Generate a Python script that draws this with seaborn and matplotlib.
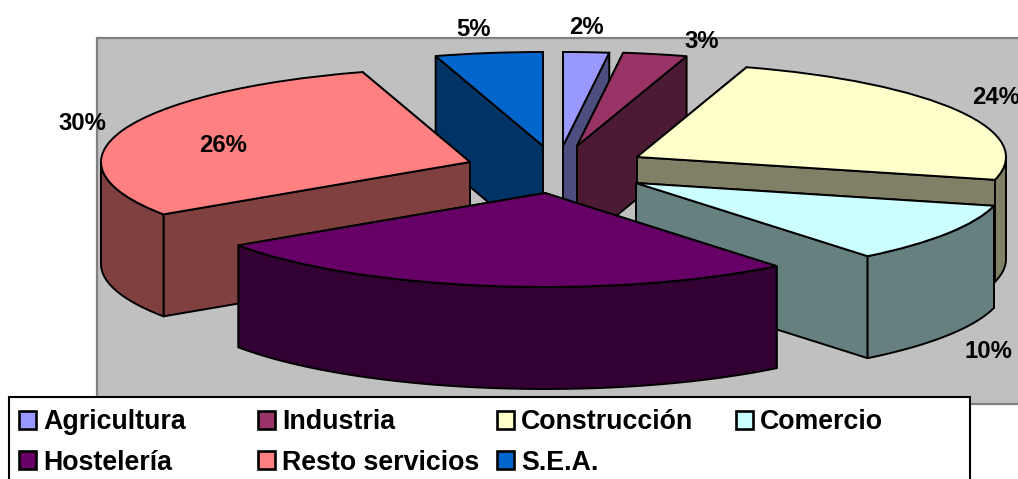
import numpy as np
import matplotlib
matplotlib.use("Agg")
import matplotlib.pyplot as plt
from matplotlib.patches import Polygon, Rectangle
import seaborn as sns

# --- data ---
categories = ["Agricultura", "Industria", "Construcción", "Comercio",
              "Hostelería", "Resto servicios", "S.E.A."]
shares = [2.0, 2.8, 24.1, 10.3, 26.4, 29.7, 4.7]
palette_hex = ["#9999FF", "#993366", "#FFFFCC", "#CCFFFF",
               "#660066", "#FF8080", "#0066CC"]

# --- layout (pixels of the 1018x479 picture) ---
W, H = 1018, 479
RX, RY, DEPTH = 369, 94, 102
apex = [(563, 146), (577, 146), (637, 157), (636, 183),
        (545, 193), (470, 162), (543, 146)]
label_pos = [(586, 28), (702, 42), (996, 97), (988, 352),
             (223, 145), (82, 124), (474, 30)]
draw_order = [6, 0, 1, 5, 2, 3, 4]
legend_x = [18, 257, 496, 735]
legend_y = [419.5, 460]
legend_slots = [(0, 0), (1, 0), (2, 0), (3, 0), (0, 1), (1, 1), (2, 1)]
EDGE = 1.4

sns.set_theme(style="white")
plt.rcParams["font.family"] = ["Liberation Sans", "DejaVu Sans"]
colors = sns.color_palette(palette_hex)
side_colors = [tuple(c * 0.5 for c in col) for col in colors]

fig = plt.figure(figsize=(W / 100, H / 100), dpi=100, facecolor="white")
ax = fig.add_axes([0, 0, 1, 1])


def P(x, y):
    """picture pixel -> pie data units (one unit = one pie radius)"""
    return x / RX, -y / RY


wedges, _ = ax.pie(shares, colors=colors, startangle=90, counterclock=False,
                   wedgeprops=dict(edgecolor="black", linewidth=EDGE))
ax.set_aspect("auto")
ax.set_xlim(0, W / RX)
ax.set_ylim(-H / RY, 0)
ax.axis("off")

# plot area
x0, y0 = P(97, 404)
x1, y1 = P(1030, 38)
ax.add_patch(Rectangle((x0, y0), x1 - x0, y1 - y0, facecolor="#C0C0C0",
                       edgecolor="#808080", linewidth=1.6, zorder=0.5))

drop = DEPTH / RY
z = 1.0
for i in draw_order:
    w = wedges[i]
    cx, cy = P(*apex[i])
    w.set_center((cx, cy))
    a, b = sorted((w.theta1, w.theta2))

    def corner(t):
        return cx + np.cos(np.radians(t)), cy + np.sin(np.radians(t))

    # cut faces, the farther one first
    for t in sorted((a, b), key=lambda t: -corner(t)[1]):
        ex, ey = corner(t)
        ax.add_patch(Polygon([(cx, cy), (ex, ey), (ex, ey - drop), (cx, cy - drop)],
                             closed=True, facecolor=side_colors[i], edgecolor="black",
                             linewidth=EDGE, joinstyle="round", zorder=z))
        z += 0.01

    # outer rim: only the part on the front half of the ellipse
    for k in (-1, 0, 1):
        lo, hi = max(a, 180 + 360 * k), min(b, 360 + 360 * k)
        if hi > lo:
            t = np.radians(np.linspace(lo, hi, 200))
            xs, ys = cx + np.cos(t), cy + np.sin(t)
            pts = np.r_[np.c_[xs, ys], np.c_[xs, ys - drop][::-1]]
            ax.add_patch(Polygon(pts, closed=True, facecolor=side_colors[i], edgecolor="black",
                                 linewidth=EDGE, joinstyle="round", zorder=z))
            z += 0.01
    w.set_zorder(z)
    z += 0.01

# percentage labels
for val, (lx, ly) in zip(shares, label_pos):
    ax.text(*P(lx, ly), f"{val:.0f}%", fontsize=17.2, fontweight="bold", color="black",
            ha="center", va="center", zorder=20, clip_on=False)

# legend box
bx0, by0 = P(9, 490)
bx1, by1 = P(970, 397)
ax.add_patch(Rectangle((bx0, by0), bx1 - bx0, by1 - by0, facecolor="white",
                       edgecolor="black", linewidth=1.5, zorder=21))
for name, col, (sc, sr) in zip(categories, colors, legend_slots):
    sx, sy = legend_x[sc], legend_y[sr]
    qx0, qy0 = P(sx + 1, sy + 9)
    qx1, qy1 = P(sx + 18, sy - 9)
    ax.add_patch(Rectangle((qx0, qy0), qx1 - qx0, qy1 - qy0, facecolor=col,
                           edgecolor="black", linewidth=1.9, zorder=22))
    ax.text(*P(sx + 25, sy + 2.5), name, fontsize=19.3, fontweight="bold", color="black",
            ha="left", va="center", zorder=23)

fig.savefig("out.png", dpi=100, facecolor="white")
